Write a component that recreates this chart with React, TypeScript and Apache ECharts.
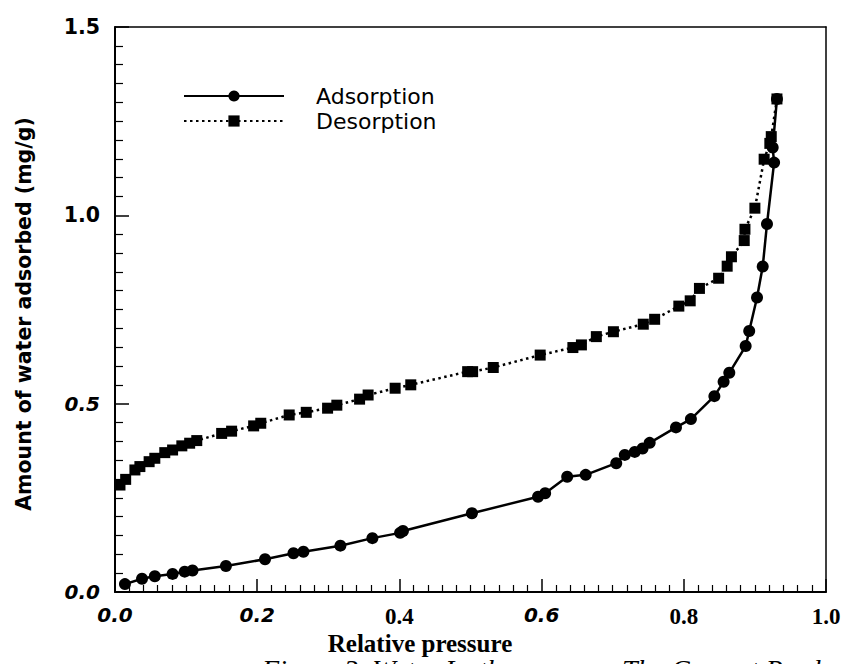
import React, { useEffect, useRef } from "react";
import * as echarts from "echarts";

const xTickLabels = ["0.0", "0.2", "0.4", "0.6", "0.8", "1.0"];
const xTickStyles = ["si", "si", "tb", "si", "tb", "tb"];
const yTickLabels = ["0.0", "0.5", "1.0", "1.5"];
const yTickStyles = ["si", "si", "sb", "sb"];

const seriesNames = ["Adsorption", "Desorption"];

const adsorptionX = [
  0.014, 0.038, 0.056, 0.081, 0.098, 0.109, 0.156, 0.211, 0.251, 0.265, 0.317, 0.362, 0.401, 0.405,
  0.502, 0.595, 0.605, 0.636, 0.662, 0.705, 0.717, 0.731, 0.742, 0.752, 0.789, 0.81, 0.843, 0.856,
  0.864, 0.887, 0.892, 0.903, 0.911, 0.917, 0.927, 0.925, 0.931,
];
const adsorptionY = [
  0.021, 0.035, 0.042, 0.048, 0.054, 0.057, 0.069, 0.087, 0.103, 0.107, 0.123, 0.143, 0.157, 0.162,
  0.209, 0.253, 0.262, 0.306, 0.311, 0.342, 0.364, 0.372, 0.381, 0.396, 0.437, 0.459, 0.52, 0.558,
  0.582, 0.653, 0.693, 0.782, 0.864, 0.977, 1.14, 1.18, 1.309,
];

const desorptionX = [
  0.931, 0.923, 0.921, 0.913, 0.9, 0.886, 0.885, 0.867, 0.861, 0.849, 0.822, 0.809, 0.793, 0.759,
  0.743, 0.701, 0.677, 0.656, 0.644, 0.598, 0.532, 0.503, 0.496, 0.416, 0.394, 0.356, 0.344, 0.312,
  0.299, 0.269, 0.245, 0.205, 0.195, 0.164, 0.15, 0.115, 0.105, 0.094, 0.081, 0.07, 0.056, 0.048,
  0.035, 0.028, 0.015, 0.007,
];
const desorptionY = [
  1.309, 1.209, 1.191, 1.149, 1.019, 0.963, 0.933, 0.89, 0.865, 0.833, 0.806, 0.773, 0.759, 0.724,
  0.711, 0.691, 0.678, 0.656, 0.649, 0.629, 0.596, 0.585, 0.585, 0.55, 0.541, 0.523, 0.512, 0.496,
  0.488, 0.477, 0.47, 0.448, 0.441, 0.427, 0.421, 0.402, 0.395, 0.388, 0.377, 0.37, 0.355, 0.346,
  0.333, 0.324, 0.299, 0.284,
];

const xName = "Relative pressure";
const yName = "Amount of water adsorbed (mg/g)";
const captionLeft = "Figure 3. Water Isotherms";
const captionRight = "The Current Product";

const rich = {
  si: { fontFamily: "'DejaVu Sans', sans-serif", fontWeight: "bold", fontStyle: "italic", fontSize: 20, color: "#000" },
  sb: { fontFamily: "'DejaVu Sans', sans-serif", fontWeight: "bold", fontSize: 20.5, color: "#000" },
  tb: { fontFamily: "'Liberation Serif', serif", fontWeight: "bold", fontSize: 23, color: "#000" },
};

export default function App() {
  const ref = useRef<HTMLDivElement>(null);
  useEffect(() => {
    if (!ref.current) return;
    const chart = echarts.init(ref.current, null, { renderer: "svg" });
    const ads = adsorptionX.map((x, i) => [x, adsorptionY[i]]);
    const des = desorptionX.map((x, i) => [x, desorptionY[i]]);
    const frame = {
      show: true,
      onZero: false,
      lineStyle: { color: "#000", width: 1.5 },
    };
    chart.setOption({
      animation: false,
      backgroundColor: "#fff",
      grid: { left: 115, right: 25, top: 27, bottom: 72, containLabel: false },
      legend: {
        show: true,
        data: seriesNames,
        orient: "vertical",
        left: 178,
        top: 80,
        itemWidth: 100,
        itemHeight: 14,
        itemGap: 3,
        textStyle: {
          fontFamily: "DejaVu Sans",
          fontSize: 22,
          color: "#000",
          padding: [0, 0, 0, 27],
        },
      },
      xAxis: [
        {
          type: "value",
          min: 0,
          max: 1,
          interval: 0.2,
          axisLine: { show: true, onZero: false, lineStyle: { color: "#000", width: 2 } },
          axisTick: { show: true, inside: true, length: 13, lineStyle: { color: "#000", width: 1.5 } },
          minorTick: { show: true, splitNumber: 10, length: 7, lineStyle: { color: "#000", width: 1.2 } },
          splitLine: { show: false },
          minorSplitLine: { show: false },
          axisLabel: {
            margin: 13,
            formatter: (v: number) => {
              const i = Math.round(v * 5);
              return `{${xTickStyles[i]}|${xTickLabels[i]}}`;
            },
            rich,
          },
        },
        {
          type: "value",
          min: 0,
          max: 1,
          position: "top",
          axisLine: frame,
          axisTick: { show: false },
          axisLabel: { show: false },
          splitLine: { show: false },
        },
      ],
      yAxis: [
        {
          type: "value",
          min: 0,
          max: 1.5,
          interval: 0.5,
          axisLine: { show: true, onZero: false, lineStyle: { color: "#000", width: 2 } },
          axisTick: { show: true, inside: true, length: 14, lineStyle: { color: "#000", width: 1.5 } },
          minorTick: { show: true, splitNumber: 10, length: 8, lineStyle: { color: "#000", width: 1.2 } },
          splitLine: { show: false },
          minorSplitLine: { show: false },
          axisLabel: {
            margin: 15,
            formatter: (v: number) => {
              const i = Math.round(v * 2);
              return `{${yTickStyles[i]}|${yTickLabels[i]}}`;
            },
            rich,
          },
        },
        {
          type: "value",
          min: 0,
          max: 1.5,
          position: "right",
          axisLine: frame,
          axisTick: { show: false },
          axisLabel: { show: false },
          splitLine: { show: false },
        },
      ],
      graphic: [
        {
          type: "text",
          x: 24,
          y: 314,
          rotation: Math.PI / 2,
          style: {
            text: yName,
            align: "center",
            verticalAlign: "middle",
            fontFamily: "DejaVu Sans",
            fontWeight: "bold",
            fontSize: 20.5,
            fill: "#000",
          },
        },
        {
          type: "text",
          x: 420,
          y: 631,
          style: {
            text: xName,
            align: "center",
            verticalAlign: "top",
            fontFamily: "Liberation Serif",
            fontWeight: "bold",
            fontSize: 25,
            fill: "#000",
          },
        },
        {
          type: "text",
          x: 262,
          y: 655,
          style: {
            text: captionLeft,
            align: "left",
            verticalAlign: "top",
            fontFamily: "Liberation Serif",
            fontStyle: "italic",
            fontSize: 28,
            lineHeight: 28,
            fill: "#000",
          },
        },
        {
          type: "text",
          x: 622,
          y: 655,
          style: {
            text: captionRight,
            align: "left",
            verticalAlign: "top",
            fontFamily: "Liberation Serif",
            fontStyle: "italic",
            fontSize: 28,
            lineHeight: 28,
            fill: "#000",
          },
        },
      ],
      series: [
        {
          name: seriesNames[0],
          type: "line",
          data: ads,
          symbol: "circle",
          symbolSize: 12,
          itemStyle: { color: "#000" },
          lineStyle: { color: "#000", width: 2.5, type: "solid" },
        },
        {
          name: seriesNames[1],
          type: "line",
          data: des,
          symbol: "rect",
          symbolSize: 11,
          itemStyle: { color: "#000" },
          lineStyle: { color: "#000", width: 2.5, type: [2.5, 3.5] },
        },
      ],
    });
    return () => chart.dispose();
  }, []);
  return (
    <div
      ref={ref}
      style={{ position: "fixed", left: 0, top: 0, width: 851, height: 664, background: "#fff" }}
    />
  );
}
